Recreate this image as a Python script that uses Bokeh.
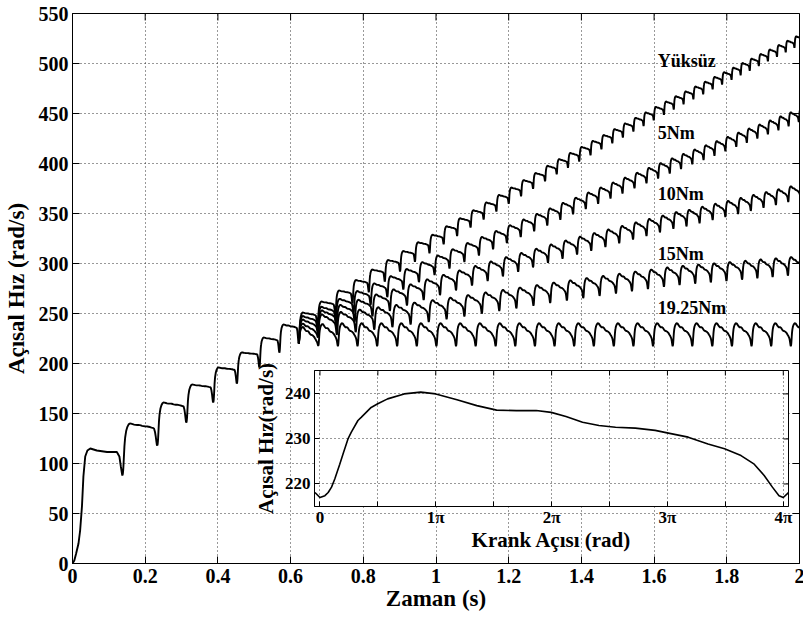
import numpy as np
from bokeh.plotting import figure
from bokeh.models import Range1d, FixedTicker, GlobalInlineStyleSheet
from bokeh.layouts import column
from bokeh.embed import file_html
from bokeh.resources import INLINE
from bokeh.core.properties import value

FONT = "Liberation Serif"

# ---------------- main axes ----------------
x_ticks = [0, 0.2, 0.4, 0.6, 0.8, 1, 1.2, 1.4, 1.6, 1.8, 2]
x_tick_labels = ["0", "0.2", "0.4", "0.6", "0.8", "1", "1.2", "1.4", "1.6", "1.8", "2"]
y_ticks = [0, 50, 100, 150, 200, 250, 300, 350, 400, 450, 500, 550]

# ---------------- start-up (common to all loads) ----------------
start_t = [0, 0.005, 0.010, 0.0165, 0.021, 0.026, 0.030, 0.035, 0.041, 0.049, 0.067, 0.095, 0.122, 0.129, 0.133, 0.137]
start_v = [0, 3, 10, 20, 33, 57, 87, 107, 113, 115, 113, 111.5, 111.5, 107, 97, 88]

# common teeth before the load is applied
common_dip_t = [0.137, 0.233, 0.313, 0.387, 0.452, 0.514, 0.569, 0.622]
common_dip_v = [88, 118, 141, 161, 180, 196, 211, 220]
common_peak_v = [140, 161, 179, 196, 211, 226, 239]
common_end_v = [135, 157, 176, 193.5, 209, 223, 235.5]

# ---------------- teeth after the load (per curve) ----------------
yuksuz_dip_t = [0.622, 0.674, 0.723, 0.770, 0.815, 0.859, 0.901, 0.942, 0.982, 1.021,
                1.058, 1.095, 1.131, 1.166, 1.200, 1.234, 1.267, 1.300, 1.332, 1.363,
                1.394, 1.425, 1.455, 1.485, 1.514, 1.543, 1.571, 1.599, 1.627, 1.654,
                1.681, 1.708, 1.735, 1.761, 1.787, 1.813, 1.838, 1.863, 1.888, 1.913,
                1.938, 1.962, 1.986, 2.010]
yuksuz_dip_v = [220, 237.1, 249.1, 260.5, 271.4, 282.0, 292.1, 301.9, 310.4, 319.3,
                327.7, 336.1, 344.2, 352.1, 359.8, 367.5, 374.8, 382.3, 389.5, 395.9,
                402.1, 408.3, 414.3, 420.4, 426.2, 432.1, 437.6, 443.3, 448.8, 454.2,
                459.5, 464.5, 469.4, 474.3, 479.1, 483.8, 488.5, 493.0, 497.7, 502.3,
                506.9, 511.3, 515.8, 520.2]
yuksuz_peak_v = [251, 262, 273, 283.5, 294, 303.5, 312.5, 321.3, 328.8, 337.3,
                 345.3, 353.3, 361.1, 368.6, 376.0, 383.4, 390.5, 397.7, 404.4, 410.6,
                 416.6, 422.6, 428.5, 434.4, 440.1, 445.7, 451.1, 456.6, 462.0, 467.3,
                 472.1, 477.0, 481.8, 486.6, 491.3, 495.9, 500.5, 504.9, 509.5, 514.0,
                 518.5, 522.8, 527.2]

nm5_dip_t = [0.622, 0.674, 0.724, 0.773, 0.820, 0.866, 0.910, 0.953, 0.996, 1.037,
             1.078, 1.118, 1.157, 1.195, 1.233, 1.270, 1.306, 1.342, 1.377, 1.412,
             1.446, 1.480, 1.513, 1.546, 1.579, 1.611, 1.643, 1.674, 1.705, 1.736,
             1.766, 1.796, 1.826, 1.855, 1.884, 1.913, 1.942, 1.970, 1.998, 2.026]
nm5_dip_v = [220, 233.4, 242.0, 250.5, 258.7, 266.5, 274.1, 281.5, 288.6, 295.2,
             301.7, 308.2, 314.4, 320.5, 326.6, 332.4, 338.2, 343.9, 349.3, 354.7,
             359.9, 365.1, 370.2, 375.3, 380.3, 385.2, 390.2, 394.7, 399.3, 403.7,
             408.0, 412.4, 416.8, 420.9, 425.1, 429.3, 433.5, 437.5, 441.6, 445.6]
nm5_peak_v = [247.5, 256.8, 264.7, 272.5, 280.1, 287.4, 294.5, 301.4, 308.1, 314.3,
              320.5, 326.6, 332.5, 338.3, 344.1, 349.7, 355.2, 360.7, 365.8, 371.0,
              376.0, 381.0, 385.9, 390.8, 395.7, 400.4, 405.2, 409.6, 414.0, 418.3,
              422.4, 426.7, 430.9, 435.0, 439.0, 443.1, 447.2, 451.2, 455.2]

nm10_dip_t = [0.622, 0.675, 0.726, 0.776, 0.825, 0.873, 0.920, 0.966, 1.011, 1.055,
              1.099, 1.142, 1.184, 1.226, 1.267, 1.308, 1.348, 1.388, 1.427, 1.466,
              1.504, 1.542, 1.579, 1.616, 1.653, 1.689, 1.725, 1.761, 1.796, 1.831,
              1.866, 1.901, 1.935, 1.969, 2.003]
nm10_dip_v = [220, 230.0, 235.9, 241.7, 247.3, 252.8, 258.2, 263.6, 268.5, 273.3,
              278.1, 282.7, 287.3, 291.9, 296.3, 300.9, 305.0, 309.1, 312.9, 316.7,
              320.4, 324.2, 327.7, 331.3, 334.9, 337.3, 340.5, 343.6, 346.7, 349.7,
              352.8, 355.8, 358.7, 361.7, 364.6]
nm10_peak_v = [244, 253.2, 258.6, 263.8, 269.1, 274.2, 279.2, 284.2, 288.7, 293.1,
               297.6, 302.1, 306.4, 310.6, 314.8, 319.1, 323.0, 326.9, 330.5, 334.1,
               337.6, 341.2, 344.6, 348.0, 351.5, 353.7, 356.8, 359.8, 362.7, 365.6,
               368.6, 371.5, 374.3, 377.2]

nm15_dip_t = [0.622, 0.675, 0.727, 0.779, 0.830, 0.880, 0.930, 0.980, 1.029, 1.078,
              1.126, 1.174, 1.221, 1.268, 1.314, 1.360, 1.405, 1.450, 1.495, 1.539,
              1.583, 1.627, 1.670, 1.713, 1.756, 1.799, 1.842, 1.884, 1.926, 1.968,
              2.010]
nm15_dip_v = [220, 226.2, 228.8, 231.5, 234.0, 236.5, 239.1, 241.7, 244.4, 247.2,
              250.0, 252.7, 255.3, 258.0, 260.7, 263.1, 265.5, 267.8, 270.2, 272.5,
              274.6, 276.9, 278.6, 280.0, 281.3, 282.6, 284.0, 285.4, 286.6, 288.0,
              289.2]
nm15_peak_v = [240, 249.2, 251.6, 254.0, 256.3, 258.6, 261.0, 263.4, 265.9, 268.5,
               271.1, 273.6, 276.0, 278.5, 281.0, 283.2, 285.5, 287.6, 289.8, 292.0,
               294.0, 296.1, 297.7, 299.0, 300.2, 301.5, 302.8, 304.1, 305.2, 306.5]

nm1925_dip_t = [0.622, 0.676, 0.730, 0.784, 0.838, 0.893, 0.947, 1.001, 1.055, 1.109,
                1.164, 1.218, 1.272, 1.326, 1.380, 1.434, 1.489, 1.543, 1.597, 1.651,
                1.705, 1.760, 1.814, 1.868, 1.922, 1.976, 2.030]
nm1925_dip_v = [220, 217.8, 217.5, 217.5, 217.5, 217.5, 217.5, 217.5, 217.5, 217.5,
                217.5, 217.5, 217.5, 217.5, 217.5, 217.5, 217.5, 217.5, 217.5, 217.5,
                217.5, 217.5, 217.5, 217.5, 217.5, 217.5, 217.5]
nm1925_peak_v = [236.5, 239.5, 240.3, 240.3, 240.3, 240.3, 240.3, 240.3, 240.3, 240.3,
                 240.3, 240.3, 240.3, 240.3, 240.3, 240.3, 240.3, 240.3, 240.3, 240.3,
                 240.3, 240.3, 240.3, 240.3, 240.3, 240.3]

# drop of the plateau (peak -> value just before the next dip), per curve
curve_sag = [3, 5, 7, 9.5, 14.1]

curve_labels = ["Yüksüz", "5Nm", "10Nm", "15Nm", "19.25Nm"]
label_t = [1.61, 1.61, 1.61, 1.61, 1.61]
label_v = [503, 431, 370, 310, 256]

# ---------------- inset: one cycle at 19.25 Nm ----------------
inset_angle = [-0.043, 0, 0.043, 0.071, 0.1, 0.128, 0.171, 0.2, 0.242, 0.271, 0.328, 0.356,
               0.442, 0.499, 0.584, 0.727, 0.87, 1.0, 1.183, 1.354, 1.525, 1.696, 1.867,
               1.996, 2.124, 2.267, 2.409, 2.552, 2.723, 2.894, 3.008, 3.179, 3.35, 3.493,
               3.635, 3.749, 3.835, 3.906, 3.963, 4.0, 4.045]
inset_speed = [218.1, 217.0, 217.4, 218.1, 219.3, 221.1, 224.4, 226.7, 230.0, 231.5, 234.1, 234.8,
               237.0, 237.8, 238.9, 240.0, 240.4, 240.0, 238.7, 237.4, 236.4, 236.3, 236.3,
               235.9, 235.0, 233.7, 233.0, 232.6, 232.4, 231.9, 231.3, 230.4, 228.9, 227.8,
               226.3, 224.4, 221.9, 219.3, 217.4, 217.0, 218.1]
inset_x_ticks = [0, 0.5, 1, 1.5, 2, 2.5, 3, 3.5, 4]
inset_x_labels = ["0", "", "1π", "", "2π", "", "3π", "", "4π"]
inset_y_ticks = [220, 230, 240]

# ---------------- tooth shape taken from the inset cycle ----------------
th = np.array(inset_angle)
sp = np.array(inset_speed)
i0 = inset_angle.index(0)
i4 = inset_angle.index(4.0)
ipk = int(np.argmax(sp))
ie = inset_angle.index(3.635)
v0, vpk, ve, v4 = sp[i0], sp[ipk], sp[ie], sp[i4]
rise_phi = th[i0:ipk + 1] / 4.0
rise_w = (sp[i0:ipk + 1] - v0) / (vpk - v0)
dec_phi = th[ipk:ie + 1] / 4.0
dec_w = (vpk - sp[ipk:ie + 1]) / (vpk - ve)
drop_phi = th[ie:i4 + 1] / 4.0
drop_w = (ve - sp[ie:i4 + 1]) / (ve - v4)


def teeth(dip_t, dip_v, peak_v, end_v):
    ts, vs = [], []
    for k in range(len(peak_v)):
        t0, t1 = dip_t[k], dip_t[k + 1]
        T = t1 - t0
        d0, d1, pk, e = dip_v[k], dip_v[k + 1], peak_v[k], end_v[k]
        ts += list(t0 + rise_phi * T)
        vs += list(d0 + (pk - d0) * rise_w)
        ts += list(t0 + dec_phi[1:] * T)
        vs += list(pk + (e - pk) * dec_w[1:])
        ts += list(t0 + drop_phi[1:] * T)
        vs += list(e + (d1 - e) * drop_w[1:])
    return ts, vs


def style_axis(ax, tick_size, label_size):
    ax.major_tick_out = 0
    ax.minor_tick_line_color = None
    ax.axis_line_color = "black"
    ax.major_tick_line_color = "black"
    ax.major_label_text_font = FONT
    ax.major_label_text_font_style = "bold"
    ax.major_label_text_font_size = tick_size
    ax.major_label_text_color = "black"
    ax.axis_label_text_font = FONT
    ax.axis_label_text_font_style = "bold"
    ax.axis_label_text_font_size = label_size
    ax.axis_label_text_color = "black"


# ---------------- main figure ----------------
x_lo, x_hi = 0, 2
y_lo, y_hi = 0, 550
p = figure(width=809, height=619, x_range=Range1d(x_lo, x_hi), y_range=Range1d(y_lo, y_hi),
           output_backend="svg", toolbar_location=None,
           min_border_left=72, min_border_right=3, min_border_top=13, min_border_bottom=56)
p.outline_line_color = "black"
p.outline_line_width = 1
p.background_fill_color = "white"
p.border_fill_color = "white"

for ax in (p.xaxis[0], p.yaxis[0]):
    style_axis(ax, "20px", "23px")
    ax.major_tick_in = 7

p.xaxis.ticker = FixedTicker(ticks=x_ticks)
p.xaxis.major_label_overrides = dict(zip(x_ticks, x_tick_labels))
p.yaxis.ticker = FixedTicker(ticks=y_ticks)
p.xaxis.axis_label = "Zaman (s)"
p.yaxis.axis_label = "Açısal Hız (rad/s)"
p.xaxis.major_label_standoff = 5
p.xaxis.axis_label_standoff = 0
p.yaxis.major_label_standoff = 4
p.yaxis.axis_label_standoff = 7

p.xgrid.ticker = FixedTicker(ticks=x_ticks)
p.ygrid.ticker = FixedTicker(ticks=y_ticks)
for g in (p.xgrid[0], p.ygrid[0]):
    g.grid_line_color = "#333333"
    g.grid_line_dash = "1 3"
    g.grid_line_width = 1

# inward tick marks on the top and right edges of the box
p.scatter(x=x_ticks, y=[y_hi] * len(x_ticks), marker="dash", angle=np.pi / 2, size=14,
          line_color="black", line_width=1)
p.scatter(x=[x_hi] * len(y_ticks), y=y_ticks, marker="dash", size=14,
          line_color="black", line_width=1)

LW = 1.9
ct, cv = teeth(common_dip_t, common_dip_v, common_peak_v, common_end_v)
p.line(start_t + ct, start_v + cv, line_color="black", line_width=LW)

curves = [
    (yuksuz_dip_t, yuksuz_dip_v, yuksuz_peak_v),
    (nm5_dip_t, nm5_dip_v, nm5_peak_v),
    (nm10_dip_t, nm10_dip_v, nm10_peak_v),
    (nm15_dip_t, nm15_dip_v, nm15_peak_v),
    (nm1925_dip_t, nm1925_dip_v, nm1925_peak_v),
]
for (dt, dv, pv), sag in zip(curves, curve_sag):
    ev = [v - sag for v in pv]
    tt, vv = teeth(dt, dv, pv, ev)
    p.line(tt, vv, line_color="black", line_width=LW)

p.text(x=label_t, y=label_v, text=curve_labels, text_font=value(FONT),
       text_font_style="bold", text_font_size="18px", text_color="black",
       text_align="left", text_baseline="middle")

# ---------------- inset figure ----------------
ix_lo, ix_hi = -0.047, 4.045
iy_lo, iy_hi = 215, 245.2
p2 = figure(width=556, height=202, x_range=Range1d(ix_lo, ix_hi), y_range=Range1d(iy_lo, iy_hi),
            output_backend="svg", toolbar_location=None,
            min_border_left=68, min_border_right=10, min_border_top=12, min_border_bottom=54)
p2.outline_line_color = "black"
p2.outline_line_width = 1
p2.background_fill_color = "white"
p2.border_fill_alpha = 0
p2.border_fill_color = None

for ax in (p2.xaxis[0], p2.yaxis[0]):
    style_axis(ax, "17px", "21px")
    ax.major_tick_in = 5
p2.xaxis.ticker = FixedTicker(ticks=inset_x_ticks)
p2.xaxis.major_label_overrides = dict(zip(inset_x_ticks, inset_x_labels))
p2.yaxis.ticker = FixedTicker(ticks=inset_y_ticks)
p2.xaxis.axis_label = "Krank Açısı (rad)"
p2.yaxis.axis_label = "Açısal Hız(rad/s)"
p2.xaxis.major_label_standoff = 1
p2.xaxis.axis_label_standoff = -2
p2.yaxis.major_label_standoff = 4
p2.yaxis.axis_label_standoff = 4
p2.xgrid.ticker = FixedTicker(ticks=inset_x_ticks)
p2.ygrid.ticker = FixedTicker(ticks=inset_y_ticks)
for g in (p2.xgrid[0], p2.ygrid[0]):
    g.grid_line_color = "#333333"
    g.grid_line_dash = "1 3"
    g.grid_line_width = 1

p2.scatter(x=inset_x_ticks, y=[iy_hi] * len(inset_x_ticks), marker="dash", angle=np.pi / 2,
           size=10, line_color="black", line_width=1)
p2.scatter(x=[ix_hi] * len(inset_y_ticks), y=inset_y_ticks, marker="dash", size=10,
           line_color="black", line_width=1)

p2.line(inset_angle, inset_speed, line_color="black", line_width=1.6)

p2.styles = {"position": "absolute", "left": "241.5px", "top": "358px"}

layout = column(p, p2)
layout.stylesheets = [GlobalInlineStyleSheet(css="html, body { overflow: hidden; margin: 0; }")]
open("out.html", "w").write(file_html(layout, INLINE))
